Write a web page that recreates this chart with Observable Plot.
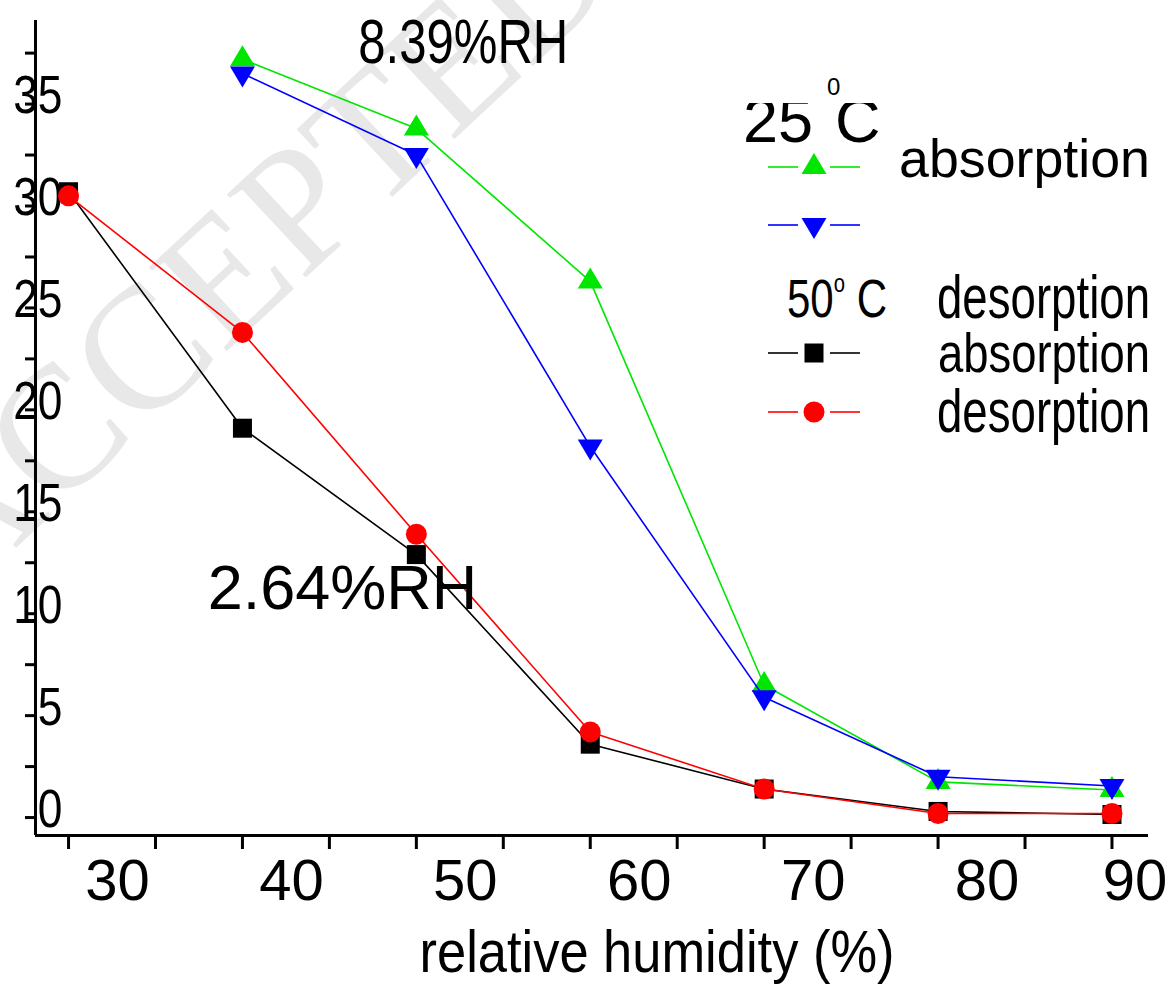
<!DOCTYPE html>
<html>
<head>
<meta charset="utf-8">
<script src="https://cdn.jsdelivr.net/npm/d3@7"></script>
<script src="https://cdn.jsdelivr.net/npm/@observablehq/plot@0.6"></script>
<style>
  html, body { margin: 0; padding: 0; background: #fff; }
  #chart svg { display: block; }
</style>
</head>
<body>
<div id="chart"></div>
<script>
// Relative humidity levels (%) measured at each temperature
const rh25 = [40, 50, 60, 70, 80, 90];
const rh50 = [30, 40, 50, 60, 70, 80, 90];

// Moisture values read along each isotherm
const abs25 = [37.2, 33.8, 26.3, 6.5, 1.75, 1.35];
const des25 = [36.5, 32.5, 18.2, 5.9, 2.0, 1.55];
const abs50 = [30.7, 19.1, 12.9, 3.6, 1.4, 0.3, 0.15];
const des50 = [30.5, 23.8, 13.9, 4.2, 1.4, 0.2, 0.2];

const seriesNames = ["25 °C absorption", "25 °C desorption", "50 °C absorption", "50 °C desorption"];
const seriesColors = ["#00e600", "#0000ff", "#000000", "#ff0000"];

// Axis ticks
const xTicks = [30, 35, 40, 45, 50, 55, 60, 65, 70, 75, 80, 85, 90];
const xTickLabels = [30, 40, 50, 60, 70, 80, 90];
const yTicks = [0, 2.5, 5, 7.5, 10, 12.5, 15, 17.5, 20, 22.5, 25, 27.5, 30, 32.5, 35, 37.5];
const yTickLabels = [0, 5, 10, 15, 20, 25, 30, 35];

// In-plot annotations
const noteLabels = ["8.39%RH", "2.64%RH"];
const noteRH = [52.7, 45.75];
const noteValues = [37.0, 10.25];

const xDomain = [28.1, 92.1];
const yDomain = [-0.88, 39.1];

// Marker shapes (Origin style)
const triUp = {draw(ctx, size) { const r = Math.sqrt(size / Math.PI);
  ctx.moveTo(0, -1.12 * r); ctx.lineTo(r, 0.56 * r); ctx.lineTo(-r, 0.56 * r); ctx.closePath(); }};
const triDown = {draw(ctx, size) { const r = Math.sqrt(size / Math.PI);
  ctx.moveTo(0, 1.12 * r); ctx.lineTo(r, -0.56 * r); ctx.lineTo(-r, -0.56 * r); ctx.closePath(); }};
const square = {draw(ctx, size) { const r = Math.sqrt(size / Math.PI);
  ctx.rect(-r, -r, 2 * r, 2 * r); }};
const circle = {draw(ctx, size) { const r = Math.sqrt(size / Math.PI);
  ctx.moveTo(r, 0); ctx.arc(0, 0, r, 0, 2 * Math.PI); }};
const seriesSymbols = [triUp, triDown, square, circle];
const seriesR = [12.5, 12.5, 9.5, 10.5];

const rows = [
  ...rh25.map((rh, i) => ({rh, v: abs25[i], s: 0})),
  ...rh25.map((rh, i) => ({rh, v: des25[i], s: 1})),
  ...rh50.map((rh, i) => ({rh, v: abs50[i], s: 2})),
  ...rh50.map((rh, i) => ({rh, v: des50[i], s: 3}))
];
const notes = noteLabels.map((label, i) => ({label, rh: noteRH[i], v: noteValues[i]}));

const seriesMarks = [];
for (let k = 0; k < 4; k++) {
  const data = rows.filter(d => d.s === k);
  seriesMarks.push(Plot.line(data, {x: "rh", y: "v", stroke: seriesColors[k], strokeWidth: 1.6}));
  seriesMarks.push(Plot.dot(data, {x: "rh", y: "v", symbol: seriesSymbols[k], r: seriesR[k],
    fill: seriesColors[k], stroke: "none"}));
}

const chart = Plot.plot({
  width: 1172,
  height: 987,
  marginLeft: 35,
  marginRight: 24,
  marginTop: 20,
  marginBottom: 152,
  x: {domain: xDomain},
  y: {domain: yDomain},
  style: {fontFamily: "'Liberation Sans', Arial, sans-serif", background: "#fff", color: "#000"},
  marks: [
    // axis lines
    Plot.ruleY([yDomain[0]], {stroke: "#000", strokeWidth: 3}),
    Plot.ruleX([xDomain[0]], {stroke: "#000", strokeWidth: 3}),
    // tick marks
    Plot.axisX(xTicks, {tickSize: 14, tickFormat: () => "", strokeWidth: 3, label: null}),
    Plot.axisY(yTicks, {tickSize: 10, tickFormat: () => "", strokeWidth: 3, label: null}),
    // tick labels
    Plot.axisX(xTickLabels.slice(0, -1), {tickSize: 0, tickPadding: 23, dx: 49, fontSize: 58, label: null}),
    Plot.axisX(xTickLabels.slice(-1), {tickSize: 0, tickPadding: 23, dx: 23, fontSize: 58, label: null}),
    Plot.axisY(yTickLabels, {tickSize: 0, tickPadding: 0, dx: 27, dy: -8, fontSize: 54, label: null,
      className: "ylab"}),
    ...seriesMarks,
    Plot.text(notes, {x: "rh", y: "v", text: "label", fontSize: 63, lineAnchor: "bottom",
      textAnchor: "middle", fill: "#000", className: "note"})
  ]
});

document.getElementById("chart").appendChild(chart);

const svg = d3.select(chart);

// compress a text element to a given rendered width
function fitWidth(node, w) {
  node.setAttribute("textLength", w);
  node.setAttribute("lengthAdjust", "spacingAndGlyphs");
}
function narrow(node, f) {
  const w = node.getComputedTextLength();
  fitWidth(node, w * f);
}

svg.selectAll("g[aria-label='y-axis tick label'] text").each(function() { narrow(this, 0.82); });
svg.selectAll("g.note text, .note text").each(function() {
  if (this.textContent === "8.39%RH") fitWidth(this, 210);
});

// watermark behind everything
svg.insert("text", ":first-child")
  .attr("transform", "translate(-40,600) rotate(-43)")
  .attr("text-anchor", "start")
  .attr("font-family", "'Liberation Serif', 'Times New Roman', serif")
  .attr("font-size", 175)
  .attr("fill", "#e8e8e8")
  .text("ACCEPTED MANUSCRIPT");
svg.insert("rect", ":first-child").attr("width", 1172).attr("height", 987).attr("fill", "#fff");

// axis title
const xt = svg.append("text")
  .attr("x", 657).attr("y", 972)
  .attr("text-anchor", "middle")
  .attr("font-family", "'Liberation Sans', Arial, sans-serif")
  .attr("font-size", 60)
  .attr("fill", "#000")
  .text("relative humidity (%)");
fitWidth(xt.node(), 475);

// legend
const lg = svg.append("g")
  .attr("text-anchor", "start")
  .attr("font-family", "'Liberation Sans', Arial, sans-serif")
  .attr("fill", "#000");
lg.append("text").attr("x", 743).attr("y", 142).attr("font-size", 63).text("25");
lg.append("text").attr("x", 835).attr("y", 142).attr("font-size", 63).text("C");
lg.append("rect").attr("x", 736).attr("y", 90).attr("width", 154).attr("height", 13).attr("fill", "#fff");
lg.append("text").attr("x", 827).attr("y", 95).attr("font-size", 24).text("0");

const legendRows = [
  {k: 0, y: 167}, {k: 1, y: 225}, {k: 2, y: 353}, {k: 3, y: 412}
];
for (const {k, y} of legendRows) {
  const c = seriesColors[k], r = seriesR[k];
  lg.append("line").attr("x1", 768).attr("x2", 798).attr("y1", y).attr("y2", y)
    .attr("stroke", c).attr("stroke-width", 1.6);
  lg.append("line").attr("x1", 830).attr("x2", 860).attr("y1", y).attr("y2", y)
    .attr("stroke", c).attr("stroke-width", 1.6);
  lg.append("path").attr("transform", `translate(814,${y})`)
    .attr("d", d3.symbol(seriesSymbols[k], Math.PI * r * r)())
    .attr("fill", c);
}
fitWidth(lg.append("text").attr("x", 899).attr("y", 177).attr("font-size", 54).text("absorption").node(), 251);

const t50 = lg.append("text").attr("x", 787).attr("y", 317).attr("font-size", 54);
t50.append("tspan").text("50");
t50.append("tspan").attr("font-size", 26).attr("dy", -25).text("o");
t50.append("tspan").attr("dy", 25).text(" C");
fitWidth(t50.node(), 100);

fitWidth(lg.append("text").attr("x", 937).attr("y", 318).attr("font-size", 62).text("desorption").node(), 213);
fitWidth(lg.append("text").attr("x", 938).attr("y", 372).attr("font-size", 56).text("absorption").node(), 212);
fitWidth(lg.append("text").attr("x", 937).attr("y", 432).attr("font-size", 61).text("desorption").node(), 213);
</script>
</body>
</html>
